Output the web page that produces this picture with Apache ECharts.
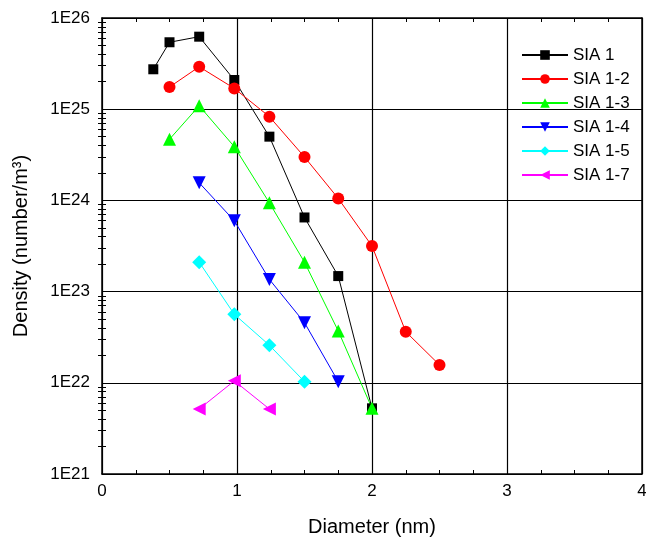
<!DOCTYPE html>
<html>
<head>
<meta charset="utf-8">
<script src="https://cdn.jsdelivr.net/npm/echarts@6/dist/echarts.min.js"></script>
<style>
  html, body { margin: 0; padding: 0; background: #fff; }
  #chart { width: 646px; height: 539px; }
</style>
</head>
<body>
<div id="chart"></div>
<script>
// diameters (nm)
const sia1X = [0.38, 0.5, 0.72, 0.98, 1.24, 1.5, 1.75, 2.0];
const sia1Y = [2.74e25, 5.42e25, 6.24e25, 2.09e25, 5.0e24, 6.5e23, 1.48e23, 5.25e21];

const sia12X = [0.5, 0.72, 0.98, 1.24, 1.5, 1.75, 2.0, 2.25, 2.5];
const sia12Y = [1.75e25, 2.92e25, 1.69e25, 8.28e24, 2.99e24, 1.05e24, 3.16e23, 3.63e22, 1.57e22];

const sia13X = [0.5, 0.72, 0.98, 1.24, 1.5, 1.75, 2.0];
const sia13Y = [4.68e24, 1.09e25, 3.88e24, 9.4e23, 2.1e23, 3.7e22, 5.25e21];

const sia14X = [0.72, 0.98, 1.24, 1.5, 1.75];
const sia14Y = [1.56e24, 5.98e23, 1.36e23, 4.56e22, 1.03e22];

const sia15X = [0.72, 0.98, 1.24, 1.5];
const sia15Y = [2.1e23, 5.64e22, 2.58e22, 1.03e22];

const sia17X = [0.72, 0.98, 1.24];
const sia17Y = [5.16e21, 1.05e22, 5.16e21];

const seriesNames = ["SIA 1", "SIA 1-2", "SIA 1-3", "SIA 1-4", "SIA 1-5", "SIA 1-7"];
const xTicks = [0, 1, 2, 3, 4];
const yMinExp = 21;
const yMaxExp = 26;

// minor log ticks at 2..9 of every decade
const minorVals = [];
for (let e = yMinExp; e < yMaxExp; e++) {
  for (let m = 2; m <= 9; m++) minorVals.push(m * Math.pow(10, e));
}

function pairs(xs, ys) {
  return xs.map((x, i) => [x, ys[i]]);
}

const chart = echarts.init(document.getElementById("chart"));
const font = "Liberation Sans";

const baseX = {
  type: "value",
  min: xTicks[0],
  max: xTicks[xTicks.length - 1],
  interval: 1,
  axisLine: { show: true, onZero: false, lineStyle: { color: "#000", width: 1.5 } },
  axisTick: { show: true, inside: true, length: 7, lineStyle: { color: "#000" } },
  minorTick: { show: true, splitNumber: 4, length: 4, lineStyle: { color: "#000" } },
  splitLine: { show: false }
};

const baseY = {
  type: "log",
  logBase: 10,
  min: Math.pow(10, yMinExp),
  max: Math.pow(10, yMaxExp),
  axisLine: { show: true, onZero: false, lineStyle: { color: "#000", width: 1.5 } },
  axisTick: { show: true, inside: true, length: 7, lineStyle: { color: "#000" } },
  splitLine: { show: false }
};

const minorY = (pos) => ({
  type: "log",
  logBase: 10,
  position: pos,
  min: Math.pow(10, yMinExp),
  max: Math.pow(10, yMaxExp),
  axisLine: { show: false },
  axisLabel: { show: false },
  splitLine: { show: false },
  axisTick: {
    show: true,
    inside: true,
    length: 4,
    customValues: minorVals,
    lineStyle: { color: "#000" }
  }
});

const colors = ["#000000", "#ff0000", "#00ff00", "#0000ff", "#00ffff", "#ff00ff"];
const symbols = [
  "rect",
  "circle",
  "triangle",
  "path://M0,0 L10,0 L5,9 Z",
  "diamond",
  "path://M0,5 L9,0 L9,10 Z"
];
const sizes = [10, 12, 13, 13, 14, 13];
const dataSets = [
  pairs(sia1X, sia1Y),
  pairs(sia12X, sia12Y),
  pairs(sia13X, sia13Y),
  pairs(sia14X, sia14Y),
  pairs(sia15X, sia15Y),
  pairs(sia17X, sia17Y)
];

const option = {
  animation: false,
  backgroundColor: "#fff",
  textStyle: { fontFamily: font },
  grid: { left: 102, right: 4, top: 18, bottom: 65, containLabel: false, outerBoundsMode: "none" },
  legend: {
    orient: "vertical",
    left: 516,
    top: 41,
    itemWidth: 46,
    itemHeight: 12,
    itemGap: 6,
    textStyle: { fontSize: 17, lineHeight: 18, color: "#000", fontFamily: font },
    data: seriesNames
  },
  xAxis: [
    Object.assign({}, baseX, {
      position: "bottom",
      name: "Diameter (nm)",
      nameLocation: "middle",
      nameGap: 43,
      nameTextStyle: { fontSize: 20, color: "#000", fontFamily: font },
      axisLabel: { show: true, fontSize: 17, color: "#000", margin: 9, fontFamily: font },
      splitLine: { show: true, lineStyle: { color: "#000", width: 1.2 } }
    }),
    Object.assign({}, baseX, { position: "top", axisLabel: { show: false } })
  ],
  yAxis: [
    Object.assign({}, baseY, {
      position: "left",
      name: "Density (number/m³)",
      nameLocation: "middle",
      nameGap: 71,
      nameTextStyle: { fontSize: 20, color: "#000", fontFamily: font },
      axisLabel: {
        show: true,
        fontSize: 17,
        color: "#000",
        margin: 12,
        fontFamily: font,
        formatter: (v) => "1E" + Math.round(Math.log10(v))
      },
      splitLine: { show: true, lineStyle: { color: "#000", width: 1.2 } }
    }),
    Object.assign({}, baseY, { position: "right", axisLabel: { show: false } }),
    minorY("left"),
    minorY("right")
  ],
  series: seriesNames.map((name, i) => ({
    name: name,
    type: "line",
    xAxisIndex: 0,
    yAxisIndex: 0,
    data: dataSets[i],
    symbol: symbols[i],
    symbolSize: sizes[i],
    showAllSymbol: true,
    color: colors[i],
    lineStyle: { color: colors[i], width: 1 },
    itemStyle: { color: colors[i], borderWidth: 0 }
  }))
};

chart.setOption(option, true);
</script>
</body>
</html>
